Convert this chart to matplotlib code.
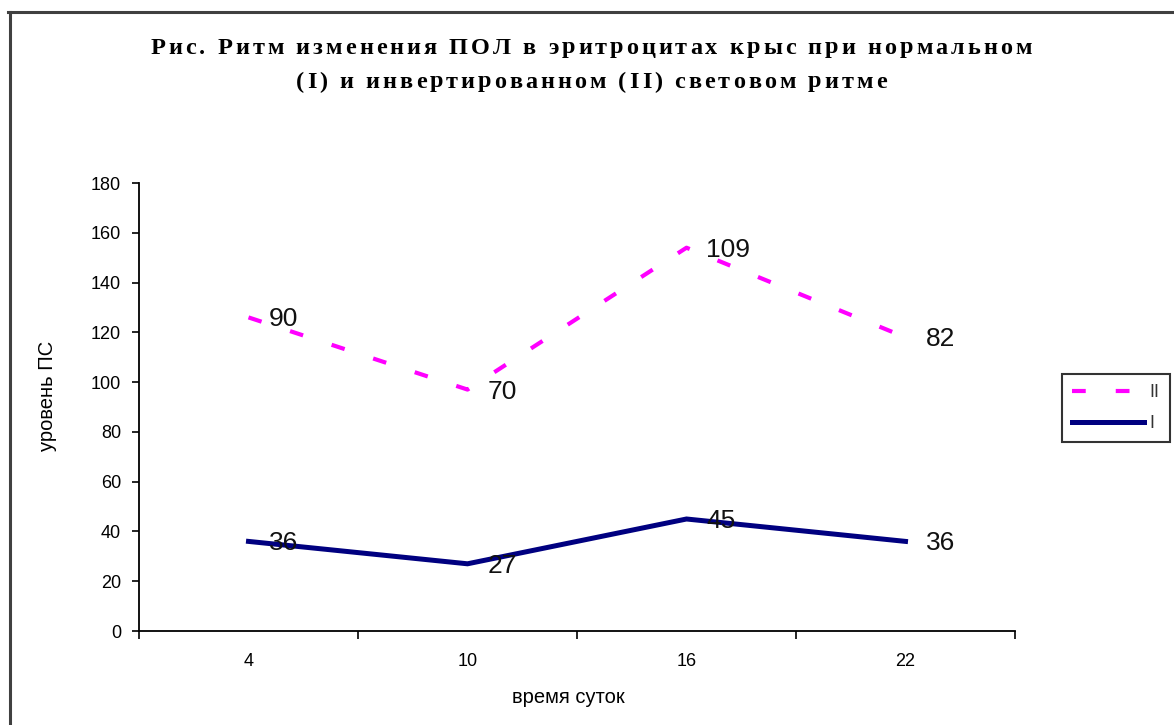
import matplotlib
matplotlib.use("Agg")
import matplotlib.pyplot as plt
from matplotlib.font_manager import FontProperties
from matplotlib.lines import Line2D
import numpy as np

# Time of day (hours) and lipid peroxidation levels for the two light regimes
hours = ["4", "10", "16", "22"]
series_i = [36, 27, 45, 36]     # I  - normal light rhythm
series_ii = [90, 70, 109, 82]   # II - inverted light rhythm
y_ticks = [0, 20, 40, 60, 80, 100, 120, 140, 160, 180]

title_lines = ["Рис. Ритм изменения ПОЛ в эритроцитах крыс при нормальном",
               "(I) и инвертированном (II) световом ритме"]

W, H = 1174, 725
fig = plt.figure(figsize=(W / 100, H / 100), dpi=100)
fig.patch.set_facecolor("white")

ax = fig.add_axes([139 / W, 1 - 631 / H, (1015 - 139) / W, (631 - 183) / H])

x = np.arange(len(hours))
# stacked line chart: series II is drawn on top of series I
stack_ii = np.array(series_i) + np.array(series_ii)

line_ii, = ax.plot(x, stack_ii, color="#ff00ff", lw=3.0, dashes=(3.3, 7.2),
                   solid_capstyle="butt", dash_capstyle="butt", zorder=3, label="II")
line_i, = ax.plot(x, series_i, color="#000080", lw=3.6, zorder=3, label="I",
                  solid_joinstyle="miter")

for xi, yi, v in zip(x, stack_ii, series_ii):
    ax.annotate(str(v), (xi, yi), xytext=(20, -2), textcoords="offset pixels",
                ha="left", va="center", fontsize=19, family="Liberation Sans",
                color="#111111", zorder=5)
for xi, yi, v in zip(x, series_i, series_i):
    ax.annotate(str(v), (xi, yi), xytext=(20, -2), textcoords="offset pixels",
                ha="left", va="center", fontsize=19, family="Liberation Sans",
                color="#111111", zorder=5)

ax.set_xlim(-0.5, len(hours) - 0.5)
ax.set_ylim(0, 180)
ax.set_yticks(y_ticks)
ax.set_yticklabels([str(t) for t in y_ticks], fontsize=13, family="Liberation Sans")

# category boundaries carry the tick marks, category centres carry the labels
ax.set_xticks(np.arange(-0.5, len(hours), 1.0))
ax.set_xticklabels([])
ax.set_xticks(x, minor=True)
ax.set_xticklabels(hours, minor=True, fontsize=13, family="Liberation Sans")
ax.tick_params(axis="x", which="major", direction="out", length=6, width=1.2)
ax.tick_params(axis="x", which="minor", length=0, pad=16)
ax.tick_params(axis="y", direction="out", length=5, width=1.2, pad=8)

for side in ("top", "right"):
    ax.spines[side].set_visible(False)
for side in ("left", "bottom"):
    ax.spines[side].set_linewidth(1.3)
    ax.spines[side].set_color("black")

ax.set_ylabel("уровень ПС", fontsize=14.5, family="Liberation Sans")
ax.set_xlabel("время суток", fontsize=14.5, family="Liberation Sans")
ax.yaxis.set_label_coords(-0.094, 0.525)
ax.xaxis.set_label_coords(0.49, -0.128)

leg = fig.legend(handles=[line_ii, line_i], labels=["II", "I"],
                 loc="upper left", bbox_to_anchor=(1062 / W, 1 - 374 / H),
                 borderaxespad=0.0,
                 frameon=True, fancybox=False, shadow=False, handlelength=4.0,
                 handletextpad=0.3, borderpad=0.55, labelspacing=0.8,
                 prop=FontProperties(family="Liberation Sans", size=13))
leg.get_frame().set_edgecolor("black")
leg.get_frame().set_linewidth(1.5)
for t in leg.get_texts():
    t.set_color("#333333")

# chart area border (top and left edges)
fig.add_artist(Line2D([8 / W, 1.0], [1 - 11.5 / H, 1 - 11.5 / H],
                      transform=fig.transFigure, color="#404040", lw=2.2))
fig.add_artist(Line2D([9.5 / W, 9.5 / W], [0.0, 1 - 11.5 / H],
                      transform=fig.transFigure, color="#404040", lw=2.2))

# title with widened letter spacing
title_fp = FontProperties(family="Liberation Serif", weight="bold", size=17.5)
renderer = fig.canvas.get_renderer()


def tracked_line(text, xc_px, yc_px, track_px):
    widths = [renderer.get_text_width_height_descent(ch, title_fp, ismath=False)[0]
              for ch in text]
    total = sum(widths) + track_px * (len(text) - 1)
    xp = xc_px - total / 2
    for ch, w in zip(text, widths):
        fig.text(xp / W, 1 - yc_px / H, ch, fontproperties=title_fp,
                 ha="left", va="center", color="black")
        xp += w + track_px


tracked_line(title_lines[0], 591, 48, 3.0)
tracked_line(title_lines[1], 591, 82, 3.0)

fig.savefig("out.png", dpi=100)
